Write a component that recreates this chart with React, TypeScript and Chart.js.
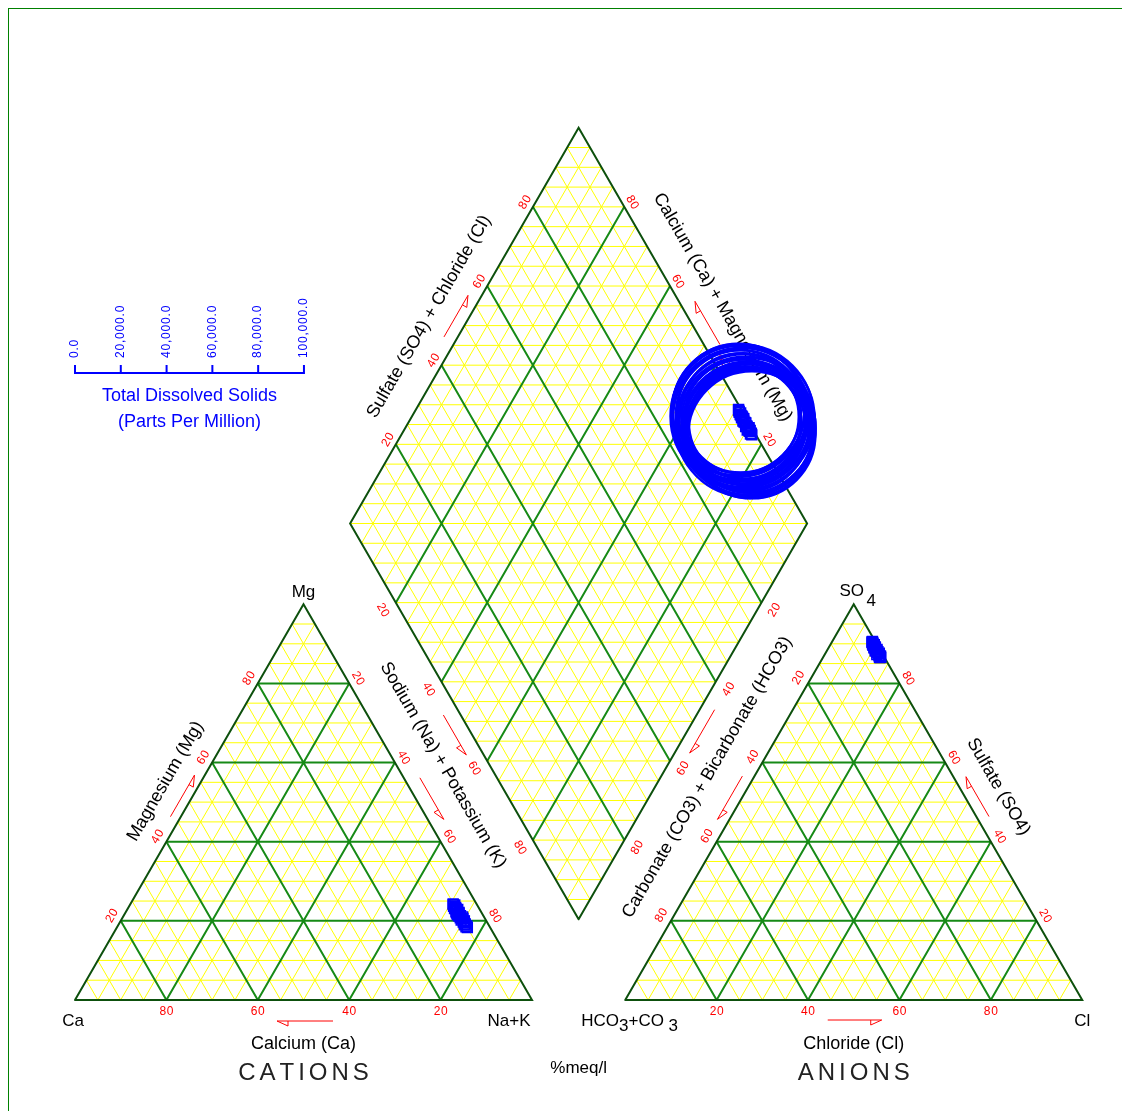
import React, { useEffect, useRef } from "react";
import { Chart, registerables } from "chart.js";

Chart.register(...registerables);

// ---------------- Sample analyses (% meq/l, TDS in ppm) ----------------
const CA_PCT = [5.1, 4.9, 5.3, 5.0, 5.4, 4.8, 5.2, 5.5, 4.9, 5.1, 5.6, 5.0, 4.7, 5.3, 5.0, 5.4, 4.8, 5.2, 5.1, 5.0, 5.3, 4.9, 5.2, 5.0, 5.5, 4.8, 5.1, 5.4, 4.9, 5.2];
const MG_PCT = [24.3, 24.0, 23.7, 23.4, 23.1, 22.9, 22.6, 22.3, 22.1, 21.8, 21.5, 21.3, 21.0, 20.8, 20.5, 20.2, 20.0, 19.7, 19.5, 19.2, 19.0, 18.7, 18.5, 18.3, 22.0, 20.6, 23.0, 21.2, 19.9, 24.1];
const HCO3_PCT = [0.6, 0.8, 0.7, 0.9, 0.6, 1.0, 0.8, 0.7, 1.1, 0.9, 0.6, 0.8, 1.2, 0.7, 0.9, 1.0, 0.8, 1.3, 0.9, 0.7, 1.0, 0.8, 1.1, 0.9, 0.7, 0.9, 0.8, 1.0, 0.6, 0.7];
const SO4_PCT = [90.6, 90.4, 90.2, 90.0, 89.8, 89.6, 89.4, 89.2, 89.0, 88.8, 88.6, 88.4, 88.2, 88.0, 87.9, 87.7, 87.5, 87.3, 87.1, 86.9, 86.8, 86.6, 86.5, 86.5, 89.1, 88.1, 89.9, 88.5, 87.6, 90.5];
const TDS_PPM = [57500, 58800, 53800, 60200, 52000, 61000, 49800, 62400, 50500, 58000, 61800, 49200, 60900, 53000, 59800, 51500, 58500, 53500, 57200, 54500, 56300, 55700, 55900, 55500, 56000, 55300, 57000, 54800, 56800, 58000];

// Axis labelling
const PCT_TICKS = [20, 40, 60, 80];
const TDS_TICKS = [0, 20000, 40000, 60000, 80000, 100000];
const TDS_MAX = 100000;
const GRID_STEP = 5;
const MAJOR_EVERY = 20;

// ---------------- Layout ----------------
const CANVAS_W = 1121;
const CANVAS_H = 1102;
const PX = 4.57; // pixels per diagram unit
const ORIGIN = { x: 66, y: 991 }; // canvas pixel of diagram (0,0)
const X_MIN = -ORIGIN.x / PX;
const X_MAX = X_MIN + CANVAS_W / PX;
const Y_MAX = ORIGIN.y / PX;
const Y_MIN = Y_MAX - CANVAS_H / PX;

const FONT = '"Liberation Sans", Arial, sans-serif';
const RED = "#ff0000";
const BLUE = "#0000ff";
const INK = "#000000";
const YELLOW = "#ffff00";
const GREEN = "#168a16";
const DARK_GREEN = "#0d500d";

type Pt = { x: number; y: number };

// Diagram geometry: triangles of side 100, separated by GAP
const SIDE = 100;
const GAP = 20.4;
const SIN60 = Math.sqrt(3) / 2;
const H = SIDE * SIN60;

const A: Pt = { x: 0, y: 0 }; // Ca
const B: Pt = { x: SIDE, y: 0 }; // Na+K
const C: Pt = { x: SIDE / 2, y: H }; // Mg
const D: Pt = { x: SIDE + GAP, y: 0 }; // HCO3+CO3
const E: Pt = { x: 2 * SIDE + GAP, y: 0 }; // Cl
const F: Pt = { x: SIDE + GAP + SIDE / 2, y: H }; // SO4
const Q: Pt = { x: SIDE + GAP / 2, y: GAP * SIN60 }; // diamond bottom
const L: Pt = { x: Q.x - SIDE / 2, y: Q.y + H };
const R: Pt = { x: Q.x + SIDE / 2, y: Q.y + H };
const T: Pt = { x: Q.x, y: Q.y + 2 * H };

const CAT_CENTER: Pt = { x: SIDE / 2, y: H / 3 };
const AN_CENTER: Pt = { x: F.x, y: H / 3 };
const DIA_CENTER: Pt = { x: Q.x, y: Q.y + H };

// TDS legend placement (diagram units)
const TDS_AXIS_START: Pt = { x: 0, y: 137.2 };
const TDS_AXIS_LEN = 50.1;

const lerp = (p: Pt, q: Pt, t: number): Pt => ({ x: p.x + (q.x - p.x) * t, y: p.y + (q.y - p.y) * t });

// ---------------- Sample positions ----------------
const cationPoint = (ca: number, mg: number): Pt => {
  const na = 100 - ca - mg;
  return { x: ((na + mg / 2) / 100) * SIDE, y: (mg / 100) * H };
};
const anionPoint = (hco3: number, so4: number): Pt => {
  const cl = 100 - hco3 - so4;
  return { x: D.x + ((cl + so4 / 2) / 100) * SIDE, y: (so4 / 100) * H };
};
const diamondPoint = (caMg: number, so4Cl: number): Pt => ({
  x: Q.x + ((so4Cl - caMg) / 2 / 100) * SIDE,
  y: Q.y + ((so4Cl + caMg) / 100) * H,
});

const cationData = CA_PCT.map((ca, i) => cationPoint(ca, MG_PCT[i]));
const anionData = HCO3_PCT.map((h, i) => anionPoint(h, SO4_PCT[i]));
const diamondData = CA_PCT.map((ca, i) => diamondPoint(ca + MG_PCT[i], 100 - HCO3_PCT[i]));
const tdsData = diamondData.map((p, i) => ({ x: p.x, y: p.y, tds: TDS_PPM[i] }));

// ---------------- Grid line segments ----------------
type Seg = { x: number; y: number | null };
const minorLines: Seg[] = [];
const majorLines: Seg[] = [];
const outlineLines: Seg[] = [];

const addSeg = (arr: Seg[], p: Pt, q: Pt) => {
  arr.push({ x: p.x, y: p.y }, { x: q.x, y: q.y }, { x: q.x, y: null });
};
const addPoly = (arr: Seg[], pts: Pt[]) => {
  pts.forEach((p) => arr.push({ x: p.x, y: p.y }));
  arr.push({ x: pts[0].x, y: null });
};

const triangleGrid = (p0: Pt, p1: Pt, p2: Pt) => {
  for (let v = GRID_STEP; v < 100; v += GRID_STEP) {
    const f = v / 100;
    const target = v % MAJOR_EVERY === 0 ? majorLines : minorLines;
    addSeg(target, lerp(p0, p2, f), lerp(p1, p2, f));
    addSeg(target, lerp(p0, p1, f), lerp(p2, p1, f));
    addSeg(target, lerp(p1, p0, f), lerp(p2, p0, f));
  }
};

const diamondGrid = () => {
  for (let v = GRID_STEP; v < 100; v += GRID_STEP) {
    const f = v / 100;
    const target = v % MAJOR_EVERY === 0 ? majorLines : minorLines;
    addSeg(target, lerp(Q, L, f), lerp(R, T, f));
    addSeg(target, lerp(Q, R, f), lerp(L, T, f));
  }
  const rows = (2 * 100) / GRID_STEP;
  for (let j = 1; j < rows; j++) {
    const k = j <= rows / 2 ? j : rows - j;
    const y = Q.y + (j * H * GRID_STEP) / 100;
    const w = (k * SIDE * GRID_STEP) / 200;
    addSeg(minorLines, { x: Q.x - w, y }, { x: Q.x + w, y });
  }
};

triangleGrid(A, B, C);
triangleGrid(D, E, F);
diamondGrid();
addPoly(outlineLines, [A, B, C, A]);
addPoly(outlineLines, [D, E, F, D]);
addPoly(outlineLines, [Q, R, T, L, Q]);

// ---------------- Label layout ----------------
const R60 = Math.PI / 3;
const TICK_EDGES = [
  { from: B, to: A, inside: CAT_CENTER, off: 12, rot: 0 },
  { from: A, to: C, inside: CAT_CENTER, off: 10, rot: -R60 },
  { from: C, to: B, inside: CAT_CENTER, off: 10, rot: R60 },
  { from: D, to: E, inside: AN_CENTER, off: 12, rot: 0 },
  { from: F, to: D, inside: AN_CENTER, off: 11, rot: -R60 },
  { from: E, to: F, inside: AN_CENTER, off: 10, rot: R60 },
  { from: L, to: T, inside: DIA_CENTER, off: 9, rot: -R60 },
  { from: R, to: T, inside: DIA_CENTER, off: 9, rot: R60 },
  { from: L, to: Q, inside: DIA_CENTER, off: 15, rot: R60 },
  { from: R, to: Q, inside: DIA_CENTER, off: 15, rot: -R60 },
];

const EDGE_TITLES = [
  { text: "Calcium (Ca)", from: A, to: B, inside: CAT_CENTER, off: 44, along: 0, rot: 0 },
  { text: "Chloride (Cl)", from: D, to: E, inside: AN_CENTER, off: 44, along: 0, rot: 0 },
  { text: "Magnesium (Mg)", from: A, to: C, inside: CAT_CENTER, off: 31, along: 6, rot: -R60 },
  { text: "Sulfate (SO4)", from: E, to: F, inside: AN_CENTER, off: 34, along: -2, rot: R60 },
  { text: "Sulfate (SO4) + Chloride (Cl)", from: L, to: T, inside: DIA_CENTER, off: 35, along: -10, rot: -R60 },
  { text: "Calcium (Ca) + Magnesium (Mg)", from: R, to: T, inside: DIA_CENTER, off: 35, along: 1, rot: R60 },
];

const ARROWS = [
  { from: A, to: B, inside: CAT_CENTER, off: 21, along: 1.5, half: 28, sign: -1 },
  { from: D, to: E, inside: AN_CENTER, off: 20, along: 1, half: 27, sign: 1 },
  { from: A, to: C, inside: CAT_CENTER, off: 9, along: 2, half: 24, sign: 1 },
  { from: E, to: F, inside: AN_CENTER, off: 11, along: 0, half: 23, sign: 1 },
  { from: L, to: T, inside: DIA_CENTER, off: 12, along: 4, half: 24, sign: 1 },
  { from: R, to: T, inside: DIA_CENTER, off: 14, along: -5, half: 25, sign: 1 },
  { from: L, to: Q, inside: DIA_CENTER, off: 15, along: 7, half: 23, sign: 1 },
  { from: C, to: B, inside: CAT_CENTER, off: 14, along: 4, half: 24, sign: 1 },
  { from: R, to: Q, inside: DIA_CENTER, off: 13, along: 4, half: 25, sign: 1 },
  { from: F, to: D, inside: AN_CENTER, off: 10.5, along: 1, half: 25, sign: 1 },
];

function drawLabel(
  ctx: CanvasRenderingContext2D,
  text: string,
  x: number,
  y: number,
  size: number,
  color: string,
  rot = 0,
  spacing = 0,
  align: "center" | "left" = "center"
) {
  ctx.save();
  ctx.translate(x, y);
  if (rot) ctx.rotate(rot);
  ctx.font = `${size}px ${FONT}`;
  ctx.fillStyle = color;
  ctx.textBaseline = "middle";
  if (!spacing) {
    ctx.textAlign = align;
    ctx.fillText(text, 0, 0);
  } else {
    const chars = Array.from(text);
    const widths = chars.map((c) => ctx.measureText(c).width);
    const total = widths.reduce((s, w) => s + w, 0) + spacing * (chars.length - 1);
    let cx = align === "left" ? 0 : -total / 2;
    ctx.textAlign = "left";
    chars.forEach((c, i) => {
      ctx.fillText(c, cx, 0);
      cx += widths[i] + spacing;
    });
  }
  ctx.restore();
}

function drawArrow(ctx: CanvasRenderingContext2D, tail: Pt, tip: Pt) {
  const len = Math.hypot(tip.x - tail.x, tip.y - tail.y);
  const ux = (tip.x - tail.x) / len;
  const uy = (tip.y - tail.y) / len;
  let px = -uy;
  let py = ux;
  if (py < 0 || (py === 0 && px < 0)) {
    px = -px;
    py = -py;
  }
  const back = { x: tip.x - ux * 11, y: tip.y - uy * 11 };
  const barb = { x: back.x + px * 5, y: back.y + py * 5 };
  ctx.save();
  ctx.strokeStyle = RED;
  ctx.lineWidth = 1;
  ctx.beginPath();
  ctx.moveTo(tail.x, tail.y);
  ctx.lineTo(tip.x, tip.y);
  ctx.lineTo(barb.x, barb.y);
  ctx.lineTo(back.x, back.y);
  ctx.stroke();
  ctx.restore();
}

const piperLabels = {
  id: "piperLabels",
  beforeDatasetsDraw(chart: Chart) {
    const ctx = chart.ctx;
    const xs = chart.scales.x;
    const ys = chart.scales.y;
    const toPx = (p: Pt): Pt => ({ x: xs.getPixelForValue(p.x), y: ys.getPixelForValue(p.y) });
    const frame = (p0: Pt, p1: Pt, inside: Pt) => {
      const a = toPx(p0);
      const b = toPx(p1);
      const c = toPx(inside);
      const len = Math.hypot(b.x - a.x, b.y - a.y);
      const dir = { x: (b.x - a.x) / len, y: (b.y - a.y) / len };
      let n = { x: dir.y, y: -dir.x };
      const m = { x: (a.x + b.x) / 2, y: (a.y + b.y) / 2 };
      if ((c.x - m.x) * n.x + (c.y - m.y) * n.y > 0) n = { x: -n.x, y: -n.y };
      return { a, b, dir, n };
    };
    type Fr = ReturnType<typeof frame>;
    const at = (f: Fr, t: number, off: number, along = 0): Pt => ({
      x: f.a.x + (f.b.x - f.a.x) * t + f.n.x * off + f.dir.x * along,
      y: f.a.y + (f.b.y - f.a.y) * t + f.n.y * off + f.dir.y * along,
    });

    ctx.save();

    // Percentage tick numbers along every edge
    for (const e of TICK_EDGES) {
      const f = frame(e.from, e.to, e.inside);
      for (const v of PCT_TICKS) {
        const p = at(f, v / 100, e.off);
        drawLabel(ctx, String(v), p.x, p.y, 12, RED, e.rot, 0.6);
      }
    }

    // Edge titles
    for (const t of EDGE_TITLES) {
      const f = frame(t.from, t.to, t.inside);
      const p = at(f, 0.5, t.off, t.along);
      drawLabel(ctx, t.text, p.x, p.y, 18, INK, t.rot);
    }

    // Titles placed in the gaps between triangles and diamond
    const bandTitle = (text: string, f1: Fr, f2: Fr, shift: number, rot: number) => {
      const m1 = at(f1, 0.5, 0);
      const m2 = at(f2, 0.5, 0);
      const x = (m1.x + m2.x) / 2 + f1.dir.x * shift;
      const y = (m1.y + m2.y) / 2 + f1.dir.y * shift;
      drawLabel(ctx, text, x, y, 18, INK, rot);
    };
    bandTitle("Sodium (Na) + Potassium (K)", frame(C, B, CAT_CENTER), frame(L, Q, DIA_CENTER), 4, R60);
    bandTitle("Carbonate (CO3) + Bicarbonate (HCO3)", frame(F, D, AN_CENTER), frame(R, Q, DIA_CENTER), 18, -R60);

    // Direction arrows
    for (const a of ARROWS) {
      const f = frame(a.from, a.to, a.inside);
      const c = at(f, 0.5, a.off, a.along);
      const tip = { x: c.x + f.dir.x * a.half * a.sign, y: c.y + f.dir.y * a.half * a.sign };
      const tail = { x: c.x - f.dir.x * a.half * a.sign, y: c.y - f.dir.y * a.half * a.sign };
      drawArrow(ctx, tail, tip);
    }

    // Vertex labels
    const pa = toPx(A);
    const pb = toPx(B);
    const pc = toPx(C);
    const pd = toPx(D);
    const pe = toPx(E);
    const pf = toPx(F);
    const pq = toPx(Q);
    drawLabel(ctx, "Mg", pc.x, pc.y - 12, 17, INK);
    drawLabel(ctx, "Ca", pa.x - 2, pa.y + 21, 17, INK);
    drawLabel(ctx, "Na+K", pb.x - 23, pb.y + 21, 17, INK);
    drawLabel(ctx, "Cl", pe.x, pe.y + 21, 17, INK);
    drawLabel(ctx, "SO", pf.x - 2, pf.y - 13, 17, INK);
    drawLabel(ctx, "4", pf.x + 17.5, pf.y - 3, 17, INK);

    // HCO3+CO3 with lowered digits
    ctx.save();
    ctx.font = `17px ${FONT}`;
    const parts: [string, number][] = [["HCO", 0], ["3", 5], ["+CO", 0], [" 3", 5]];
    let hx = pd.x - 44;
    for (const [s, dy] of parts) {
      drawLabel(ctx, s, hx, pd.y + 21 + dy, 17, INK, 0, 0, "left");
      ctx.font = `17px ${FONT}`;
      hx += ctx.measureText(s).width;
    }
    ctx.restore();

    // Group titles
    const catMid = (pa.x + pb.x) / 2;
    const anMid = (pd.x + pe.x) / 2;
    drawLabel(ctx, "CATIONS", catMid, pa.y + 73, 24, "#222222", 0, 4);
    drawLabel(ctx, "ANIONS", anMid, pd.y + 73, 24, "#222222", 0, 4);
    drawLabel(ctx, "%meq/l", pq.x, pa.y + 68, 17, INK);

    // TDS legend
    const s0 = toPx(TDS_AXIS_START);
    const s1 = toPx({ x: TDS_AXIS_START.x + TDS_AXIS_LEN, y: TDS_AXIS_START.y });
    ctx.strokeStyle = BLUE;
    ctx.lineWidth = 2;
    ctx.beginPath();
    ctx.moveTo(s0.x, s0.y);
    ctx.lineTo(s1.x, s1.y);
    for (const v of TDS_TICKS) {
      const tx = s0.x + ((s1.x - s0.x) * v) / TDS_MAX;
      ctx.moveTo(tx, s0.y + 1);
      ctx.lineTo(tx, s0.y - 8);
    }
    ctx.stroke();
    for (const v of TDS_TICKS) {
      const tx = s0.x + ((s1.x - s0.x) * v) / TDS_MAX;
      const txt = v.toLocaleString("en-US", { minimumFractionDigits: 1, maximumFractionDigits: 1 });
      drawLabel(ctx, txt, tx, s0.y - 15, 12, BLUE, -Math.PI / 2, 0.8, "left");
    }
    const lx = (s0.x + s1.x) / 2;
    drawLabel(ctx, "Total Dissolved Solids", lx, s0.y + 23, 18, BLUE);
    drawLabel(ctx, "(Parts Per Million)", lx, s0.y + 49, 18, BLUE);

    ctx.restore();
  },
};

export default function App() {
  const ref = useRef<HTMLCanvasElement>(null);

  useEffect(() => {
    const canvas = ref.current;
    if (!canvas) return;

    const html = document.documentElement;
    const prevOverflow = html.style.overflow;
    html.style.overflow = "hidden";

    const tdsRadius = (c: any) => {
      const raw = c.raw as { tds?: number } | undefined;
      if (!raw || raw.tds === undefined) return 0;
      const xs = c.chart.scales.x;
      const len = xs.getPixelForValue(TDS_AXIS_START.x + TDS_AXIS_LEN) - xs.getPixelForValue(TDS_AXIS_START.x);
      return ((raw.tds / TDS_MAX) * len) / 2;
    };

    const square = {
      showLine: false,
      pointStyle: "rect" as const,
      pointRadius: 7,
      pointBorderWidth: 1.5,
      pointBorderColor: BLUE,
      pointBackgroundColor: "rgba(0,0,0,0)",
    };

    const chart = new Chart(canvas, {
      type: "scatter",
      data: {
        datasets: [
          { label: "Cations", data: cationData, order: 1, ...square },
          { label: "Anions", data: anionData, order: 1, ...square },
          { label: "Combined", data: diamondData, order: 1, ...square },
          {
            label: "TDS",
            data: tdsData,
            order: 2,
            showLine: false,
            pointStyle: "circle",
            pointRadius: tdsRadius,
            pointBorderWidth: 2.5,
            pointBorderColor: BLUE,
            pointBackgroundColor: "rgba(0,0,0,0)",
          },
          {
            label: "outline",
            data: outlineLines as any,
            order: 3,
            showLine: true,
            spanGaps: false,
            borderColor: DARK_GREEN,
            borderWidth: 2,
            borderCapStyle: "round",
            borderJoinStyle: "miter",
            pointRadius: 0,
          },
          {
            label: "major",
            data: majorLines as any,
            order: 4,
            showLine: true,
            spanGaps: false,
            borderColor: GREEN,
            borderWidth: 2,
            pointRadius: 0,
          },
          {
            label: "minor",
            data: minorLines as any,
            order: 5,
            showLine: true,
            spanGaps: false,
            borderColor: YELLOW,
            borderWidth: 1,
            pointRadius: 0,
          },
        ],
      },
      options: {
        animation: false,
        responsive: false,
        devicePixelRatio: 1,
        events: [],
        layout: { padding: 0, autoPadding: false },
        plugins: {
          legend: { display: false },
          tooltip: { enabled: false },
          title: { display: false },
        },
        scales: {
          x: { type: "linear", display: false, min: X_MIN, max: X_MAX },
          y: { type: "linear", display: false, min: Y_MIN, max: Y_MAX },
        },
      },
      plugins: [piperLabels],
    });

    return () => {
      chart.destroy();
      html.style.overflow = prevOverflow;
    };
  }, []);

  return (
    <div
      style={{
        width: 1122,
        height: 1103,
        boxSizing: "border-box",
        borderTop: "1px solid #008000",
        borderLeft: "1px solid #008000",
        background: "#ffffff",
      }}
    >
      <canvas ref={ref} width={CANVAS_W} height={CANVAS_H} style={{ display: "block" }} />
    </div>
  );
}
